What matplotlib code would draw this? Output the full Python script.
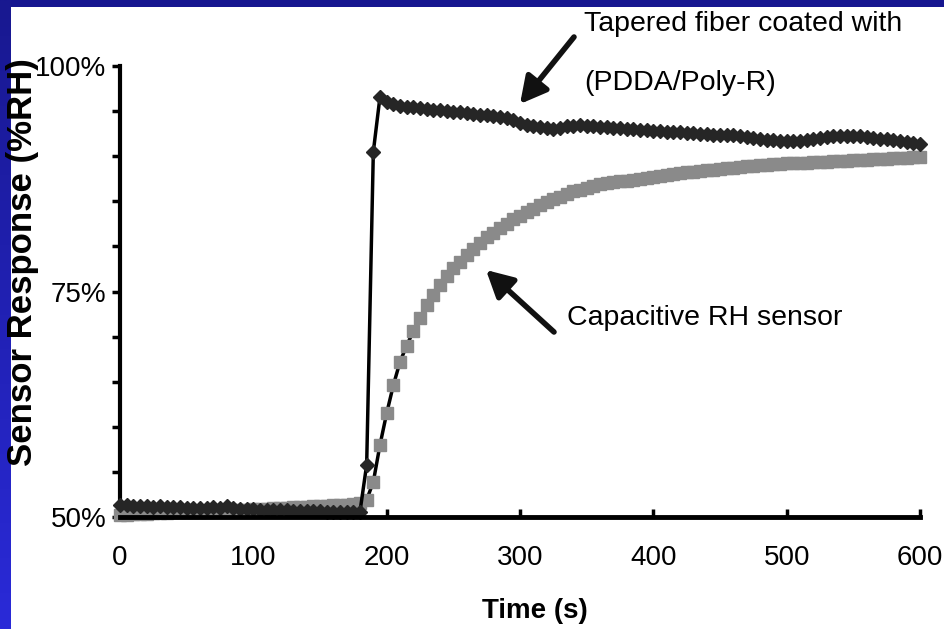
import matplotlib.pyplot as plt
import numpy as np
from matplotlib.ticker import FixedLocator
from matplotlib.colors import LinearSegmentedColormap

# time axis, one reading every 5 s
time_s = list(range(0, 605, 5))

# tapered fiber coated with (PDDA/Poly-R)
fiber = [51.3, 51.3, 51.2, 51.2, 51.2, 51.1, 51.2, 51.1, 51.1, 51.1,
         51.0, 51.0, 51.0, 51.0, 51.1, 51.0, 51.2, 51.0, 50.9, 50.9,
         50.9, 50.8, 50.8, 50.8, 50.8, 50.8, 50.7, 50.7, 50.7, 50.7,
         50.7, 50.6, 50.6, 50.6, 50.6, 50.6, 50.6,
         55.8, 90.5, 96.6, 96.0, 95.8, 95.6, 95.5, 95.4, 95.3, 95.2,
         95.1, 95.1, 95.0, 94.9, 94.9, 94.8, 94.7, 94.6, 94.6, 94.5,
         94.4, 94.2, 94.0, 93.7, 93.5, 93.3, 93.2, 93.1, 93.0, 93.1,
         93.3, 93.4, 93.5, 93.4, 93.3, 93.2, 93.2, 93.1, 93.1, 93.0,
         93.0, 92.9, 92.9, 92.8, 92.8, 92.7, 92.7, 92.7, 92.6, 92.6,
         92.5, 92.5, 92.4, 92.4, 92.3, 92.3, 92.2, 92.1, 92.0, 91.9,
         91.8, 91.8, 91.7, 91.7, 91.7, 91.7, 91.8, 91.9, 92.0, 92.1,
         92.2, 92.2, 92.2, 92.2, 92.2, 92.1, 92.0, 91.9, 91.9, 91.8,
         91.7, 91.6, 91.5, 91.4]

# capacitive RH sensor
capacitive = [50.2, 50.2, 50.3, 50.3, 50.3, 50.4, 50.4, 50.4, 50.5, 50.5,
              50.5, 50.6, 50.6, 50.6, 50.7, 50.7, 50.7, 50.8, 50.8, 50.8,
              50.9, 50.9, 50.9, 51.0, 51.0, 51.0, 51.1, 51.1, 51.1, 51.2,
              51.2, 51.2, 51.3, 51.3, 51.3, 51.4, 51.5,
              51.9, 53.9, 58.0, 61.5, 64.6, 67.2, 69.0, 70.6, 72.1, 73.5,
              74.6, 75.7, 76.7, 77.6, 78.3, 79.0, 79.7, 80.4, 81.0, 81.5,
              82.0, 82.5, 83.0, 83.4, 83.8, 84.2, 84.6, 84.9, 85.2, 85.5,
              85.8, 86.1, 86.3, 86.5, 86.7, 86.9, 87.0, 87.1, 87.2, 87.3,
              87.4, 87.5, 87.6, 87.7, 87.8, 87.9, 88.0, 88.1, 88.2, 88.3,
              88.4, 88.5, 88.5, 88.6, 88.7, 88.7, 88.8, 88.9, 88.9, 89.0,
              89.0, 89.1, 89.1, 89.2, 89.2, 89.3, 89.3, 89.4, 89.4, 89.4,
              89.5, 89.5, 89.5, 89.6, 89.6, 89.6, 89.7, 89.7, 89.7, 89.8,
              89.8, 89.8, 89.9, 89.9]

y_ticks = list(range(50, 101, 5))
y_labels = {50: "50%", 75: "75%", 100: "100%"}
x_ticks = [0, 100, 200, 300, 400, 500, 600]

font = "Liberation Sans"

fig = plt.figure(figsize=(9.44, 6.29), dpi=100)
fig.patch.set_facecolor("white")

# blue slide border (top strip + left gradient strip)
top = fig.add_axes([0, 1 - 7 / 629, 1, 7 / 629])
top.set_facecolor("#161690")
top.set_xticks([])
top.set_yticks([])
for s in top.spines.values():
    s.set_visible(False)
left = fig.add_axes([0, 0, 11 / 944, 1])
grad = np.linspace(0, 1, 256).reshape(-1, 1)
cm = LinearSegmentedColormap.from_list("b", ["#2a2ad8", "#181890"])
left.imshow(grad, aspect="auto", cmap=cm, origin="lower")
left.axis("off")

ax = fig.add_axes([120 / 944, 1 - 517 / 629, 800 / 944, 451 / 629])
ax.plot(time_s, capacitive, color="black", lw=2.5, marker="s", ms=9,
        mfc="#8a8a8a", mec="#8a8a8a", zorder=3, clip_on=False)
ax.plot(time_s, fiber, color="black", lw=2.5, marker="D", ms=7,
        mfc="#262626", mec="#262626", zorder=4, clip_on=False)

ax.set_xlim(0, 600)
ax.set_ylim(50, 100)
for s in ["top", "right"]:
    ax.spines[s].set_visible(False)
ax.spines["left"].set_linewidth(3)
ax.spines["bottom"].set_linewidth(3.5)
ax.spines["bottom"].set_zorder(5)

ax.yaxis.set_major_locator(FixedLocator(y_ticks))
ax.set_yticklabels([y_labels.get(v, "") for v in y_ticks])
ax.set_xticks(x_ticks)
ax.set_xticklabels([str(v) for v in x_ticks])
ax.tick_params(axis="y", direction="out", length=6, width=2.5, pad=4,
               labelsize=20)
ax.tick_params(axis="x", direction="in", length=6, width=2.5, pad=20,
               labelsize=20)
for lab in ax.get_xticklabels() + ax.get_yticklabels():
    lab.set_fontfamily(font)

fig.text(535 / 944, 1 - 611 / 629, "Time (s)", ha="center", va="center",
         fontsize=20, fontweight="bold", family=font)
fig.text(23 / 944, 1 - 262 / 629, "Sensor Response (%RH)", ha="center",
         va="center", rotation=90, fontsize=25, fontweight="bold",
         family=font)

fig.text(584 / 944, 1 - 24 / 629, "Tapered fiber coated with", ha="left",
         va="center", fontsize=20.5, family=font)
fig.text(584 / 944, 1 - 83 / 629, "(PDDA/Poly-R)", ha="left",
         va="center", fontsize=20.5, family=font)
fig.text(567 / 944, 1 - 318 / 629, "Capacitive RH sensor", ha="left",
         va="center", fontsize=20.5, family=font)

arrow = dict(arrowstyle="-|>,head_length=1.6,head_width=0.85", lw=4,
             color="#111111", shrinkA=0, shrinkB=0)
ax.annotate("", xy=(520 / 944, 1 - 104 / 629), xytext=(574 / 944, 1 - 37 / 629),
            xycoords="figure fraction", textcoords="figure fraction",
            arrowprops=arrow)
ax.annotate("", xy=(486 / 944, 1 - 270 / 629), xytext=(554 / 944, 1 - 332 / 629),
            xycoords="figure fraction", textcoords="figure fraction",
            arrowprops=arrow)

fig.savefig("out.png", dpi=100)
